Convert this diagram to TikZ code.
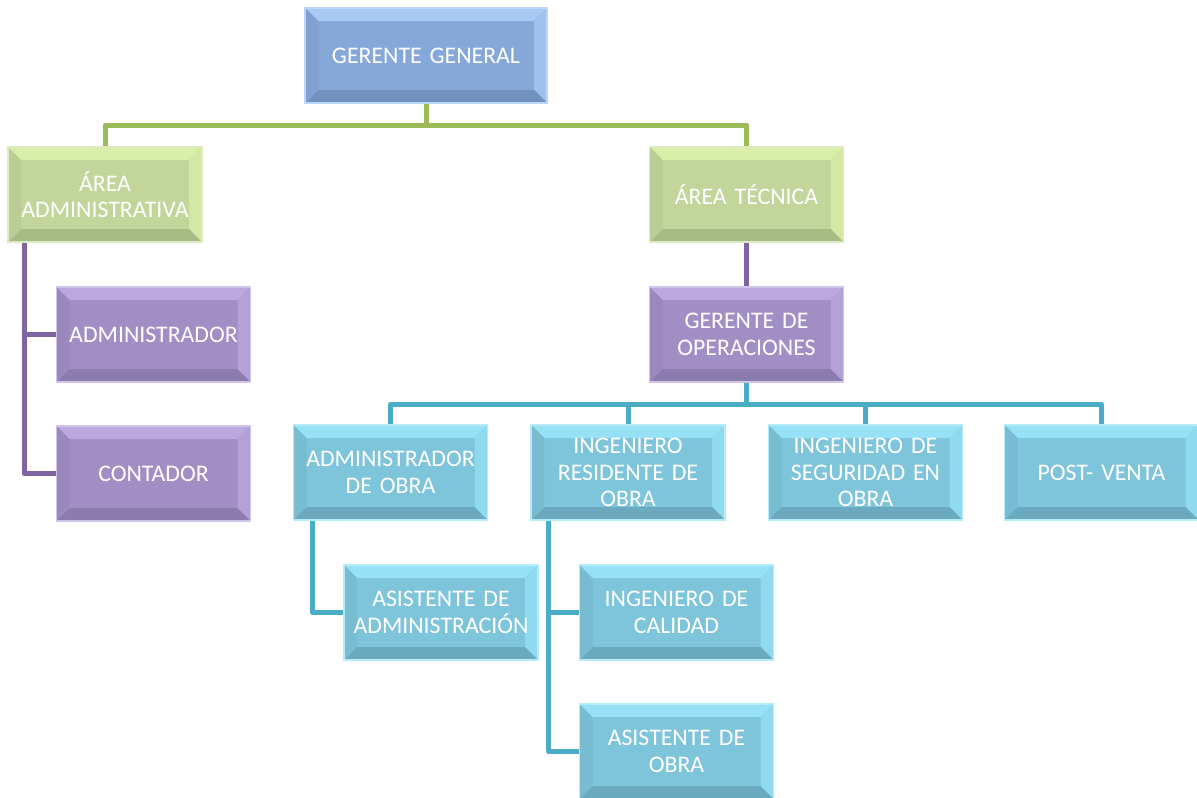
\documentclass[tikz,border=0pt]{standalone}
\usepackage{fontspec}
\setmainfont{Carlito}
\usetikzlibrary{backgrounds,calc}
\definecolor{bMain}{HTML}{86A8D9}\definecolor{bLight}{HTML}{A8C9F4}\definecolor{bDark}{HTML}{7391BF}\definecolor{bEdge}{HTML}{BBD6F8}
\definecolor{gMain}{HTML}{C2D59B}\definecolor{gLight}{HTML}{D9EEA9}\definecolor{gDark}{HTML}{A9BB85}\definecolor{gEdge}{HTML}{DDEBC2}
\definecolor{pMain}{HTML}{A18EC4}\definecolor{pLight}{HTML}{BCA8E0}\definecolor{pDark}{HTML}{8C7BAD}\definecolor{pEdge}{HTML}{D0C4E8}
\definecolor{cMain}{HTML}{7EC4DA}\definecolor{cLight}{HTML}{96E1F6}\definecolor{cDark}{HTML}{6AA9BE}\definecolor{cEdge}{HTML}{B4ECF9}
\definecolor{gLine}{HTML}{9BBB59}\definecolor{pLine}{HTML}{8064A2}\definecolor{cLine}{HTML}{4BACC6}
\tikzset{
  box/.style={minimum width=194pt, minimum height=95pt, text width=188pt, align=center,
    text=white, font=\fontsize{23.8}{26.5}\selectfont, inner sep=0pt},
  bev/.style n args={4}{box, fill=#1, draw=#4, line width=1.5pt, path picture={
    \path (path picture bounding box.north west) coordinate (pNW)
          (path picture bounding box.north east) coordinate (pNE)
          (path picture bounding box.south west) coordinate (pSW)
          (path picture bounding box.south east) coordinate (pSE);
    \coordinate (iNW) at ([shift={(13pt,-13pt)}]pNW);
    \coordinate (iNE) at ([shift={(-13pt,-13pt)}]pNE);
    \coordinate (iSW) at ([shift={(13pt,13pt)}]pSW);
    \coordinate (iSE) at ([shift={(-13pt,13pt)}]pSE);
    \fill[#2] (pNW) -- (pNE) -- (iNE) -- (iNW) -- cycle;
    \fill[#2!75!#1] (pNE) -- (pSE) -- (iSE) -- (iNE) -- cycle;
    \fill[#3] (pSW) -- (pSE) -- (iSE) -- (iSW) -- cycle;
    \fill[#1!70!#3] (pNW) -- (pSW) -- (iSW) -- (iNW) -- cycle;
  }},
  bluebox/.style={bev={bMain}{bLight}{bDark}{bEdge}},
  greenbox/.style={bev={gMain}{gLight}{gDark}{gEdge}},
  purplebox/.style={bev={pMain}{pLight}{pDark}{pEdge}},
  cyanbox/.style={bev={cMain}{cLight}{cDark}{cEdge}},
  conn/.style={line width=5pt, line join=round},
  gl/.style={conn, gLine}, pl/.style={conn, pLine}, cl/.style={conn, cLine}
}
\begin{document}
\begin{tikzpicture}[x=1pt,y=-1pt]
\useasboundingbox (0,0) rectangle (1197,798);
\node[bluebox, minimum width=242pt, text width=236pt] (gg) at (426,55.5) {GERENTE GENERAL};
\node[greenbox] (aa) at (105,194.5) {ÁREA\\ADMINISTRATIVA};
\node[greenbox] (at) at (746.5,194.5) {ÁREA TÉCNICA};
\node[purplebox] (adm) at (153.5,334.5) {ADMINISTRADOR};
\node[purplebox] (cont) at (153.5,473.5) {CONTADOR};
\node[purplebox] (go) at (746.5,334.5) {GERENTE DE\\OPERACIONES};
\node[cyanbox] (ao) at (390.5,472.5) {ADMINISTRADOR\\DE OBRA};
\node[cyanbox] (ir) at (628,472.5) {INGENIERO\\RESIDENTE DE\\OBRA};
\node[cyanbox] (is) at (865.5,472.5) {INGENIERO DE\\SEGURIDAD EN\\OBRA};
\node[cyanbox] (pv) at (1101.5,472.5) {POST- VENTA};
\node[cyanbox] (aad) at (441,612.5) {ASISTENTE DE\\ADMINISTRACIÓN};
\node[cyanbox] (ic) at (676.5,612.5) {INGENIERO DE\\CALIDAD};
\node[cyanbox] (aob) at (676.5,751.5) {ASISTENTE DE\\OBRA};
\begin{scope}[on background layer]
  \coordinate (gbus) at (426,125);
  \draw[gl] (gg.south) -- (gbus);
  \draw[gl] (aa.north) -- (aa.north |- gbus) -- (at.north |- gbus) -- (at.north);
  \coordinate (pv1) at ([xshift=17pt]aa.south west);
  \draw[pl] (pv1) |- (adm.west);
  \draw[pl] (pv1) |- (cont.west);
  \draw[pl] (at.south) -- (go.north);
  \coordinate (cbus) at (746.5,404);
  \draw[cl] (go.south) -- (cbus);
  \draw[cl] (ao.north) -- (ao.north |- cbus) -- (pv.north |- cbus) -- (pv.north);
  \draw[cl] (ir.north) -- (ir.north |- cbus);
  \draw[cl] (is.north) -- (is.north |- cbus);
  \coordinate (cv1) at ([xshift=20pt]ao.south west);
  \draw[cl] (cv1) |- (aad.west);
  \coordinate (cv2) at ([xshift=18pt]ir.south west);
  \draw[cl] (cv2) |- (ic.west);
  \draw[cl] (cv2) |- (aob.west);
\end{scope}
\end{tikzpicture}
\end{document}
